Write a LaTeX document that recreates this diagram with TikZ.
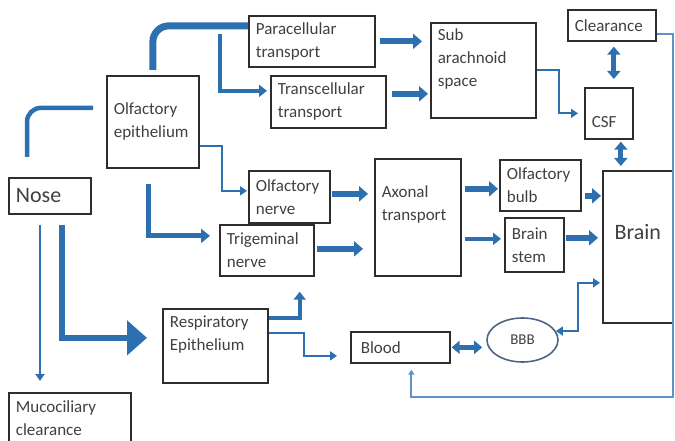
\documentclass[tikz,border=0pt]{standalone}
\usepackage{fontspec}
\setmainfont{Carlito}
\usetikzlibrary{arrows.meta,shapes.geometric}

\definecolor{flowblue}{RGB}{44,112,176}
\definecolor{backblue}{RGB}{96,146,202}
\definecolor{boxgray}{RGB}{45,45,45}
\definecolor{txtgray}{RGB}{64,64,64}
\definecolor{ovalgray}{RGB}{78,102,132}

% text block of a box: width, height, position, text
\newcommand{\bxt}[4]{\parbox[c][#2][#3]{#1}{\raggedright #4}}

\tikzset{
  box/.style={draw=boxgray, line width=1.7pt, anchor=north west, inner xsep=7pt, inner ysep=5pt,
    text=txtgray, font=\fontsize{17}{23}\selectfont},
  bigtext/.style={font=\fontsize{22}{26}\selectfont},
  oval/.style={ellipse, draw=ovalgray, line width=1.6pt, minimum width=71pt, minimum height=44pt,
    inner sep=0pt, text=txtgray, font=\fontsize{15}{18}\selectfont},
  pipe/.style={draw=flowblue, line width=#1},
  thinflow/.style={draw=flowblue, line width=2pt, -{Triangle[length=7pt,width=9pt]}},
  medflow/.style={draw=flowblue, line width=4pt, -{Triangle[length=8pt,width=12pt]}},
  fatflow/.style={draw=flowblue, line width=6pt, -{Triangle[length=9pt,width=15pt]}},
  twoway/.style={draw=flowblue, line width=5pt, {Triangle[length=8pt,width=13pt]}-{Triangle[length=8pt,width=13pt]}},
  thintwoway/.style={draw=flowblue, line width=2pt, {Triangle[length=7pt,width=9pt]}-{Triangle[length=7pt,width=9pt]}},
  backflow/.style={draw=backblue, line width=2pt, -{Triangle[length=5pt,width=6pt]}}
}

\begin{document}
\begin{tikzpicture}[x=1pt, y=-1pt]
  \useasboundingbox (0,0) rectangle (675,441);

  % Entry
  \node[box, bigtext] (nose) at (8,177) {\bxt{68pt}{26pt}{c}{Nose}};
  \node[box] (muco) at (8,392) {\bxt{108pt}{40pt}{c}{Mucociliary\\clearance}};
  \node[box] (olfepi) at (106,75) {\bxt{78pt}{82pt}{c}{Olfactory\\epithelium}};
  \node[box] (resp) at (162,308) {\bxt{91pt}{64pt}{t}{\vspace*{2pt}Respiratory\\Epithelium}};

  % Upper route
  \node[box] (para) at (248,15) {\bxt{112pt}{41pt}{c}{Paracellular\\transport}};
  \node[box] (trans) at (270,75) {\bxt{101pt}{42pt}{c}{Transcellular\\transport}};
  \node[box] (sub) at (430,22) {\bxt{91pt}{85pt}{t}{\vspace*{1pt}Sub\\arachnoid\\space}};
  \node[box] (clear) at (567,9) {\bxt{74pt}{21pt}{c}{Clearance}};
  \node[box] (csf) at (584,87) {\bxt{34pt}{41pt}{t}{\vspace*{24pt}CSF}};

  % Nerve route
  \node[box] (olfnerve) at (248,170) {\bxt{67pt}{42pt}{c}{Olfactory\\nerve}};
  \node[box] (trig) at (219,224) {\bxt{80pt}{41pt}{c}{Trigeminal\\nerve}};
  \node[box] (axon) at (374,158) {\bxt{72pt}{107pt}{t}{\vspace*{22pt}Axonal\\transport}};
  \node[box] (bulb) at (499,159) {\bxt{67pt}{41pt}{c}{Olfactory\\bulb}};
  \node[box] (stem) at (504,217) {\bxt{45pt}{44pt}{c}{Brain\\stem}};
  \node[box, bigtext] (brain) at (602,170) {\bxt{56pt}{142pt}{t}{\centering\vspace*{49pt}Brain}};

  % Blood route
  \node[box] (blood) at (350,331) {\bxt{85pt}{21pt}{c}{\hspace*{3pt}Blood}};
  \node[oval] (bbb) at (522.5,340) {BBB};
  \coordinate (rcorner) at (673,397);

  % from the nose
  \draw[pipe=4.5pt, rounded corners=14pt] ([xshift=19pt,yshift=20pt]nose.north west) |- ([xshift=-13pt,yshift=14pt]olfepi.west);
  \draw[thinflow] ([xshift=32pt,yshift=-10pt]nose.south west) -- ([xshift=32pt,yshift=11pt]muco.north west);
  \draw[pipe=6pt, -{Triangle[length=20pt,width=34pt]}] ([xshift=54pt,yshift=-10pt]nose.south west) |- ([xshift=-15pt,yshift=8pt]resp.west);

  % from the olfactory epithelium
  \draw[pipe=7pt, rounded corners=16pt] ([yshift=5pt]olfepi.north) |- ([yshift=15.5pt]para.west);
  \draw[medflow] ([xshift=-28pt,yshift=7.5pt]para.west) |- ([xshift=-3pt,yshift=11pt]trans.west);
  \draw[thinflow] ([yshift=-24pt]olfepi.east) -- ++(22,0) |- ([xshift=-1pt,yshift=6pt]olfnerve.west);
  \draw[pipe=5pt, -{Triangle[length=9pt,width=14pt]}] ([xshift=-4pt,yshift=-15pt]olfepi.south) |- ([xshift=-9pt,yshift=14.5pt]trig.west);

  % from the respiratory epithelium
  \draw[medflow] ([yshift=28pt]resp.east) -| ([xshift=-15pt,yshift=-15pt]trig.south east);
  \draw[thinflow] ([yshift=13pt]resp.east) -- ++(35,0) |- ([xshift=-13pt,yshift=-8.5pt]blood.west);

  % to the CSF
  \draw[fatflow] ([xshift=4pt]para.east) -- ([xshift=-8pt]para.east -| sub.west);
  \draw[fatflow] ([xshift=5pt,yshift=8pt]trans.east) -- ([xshift=-2pt,yshift=8pt]trans.east -| sub.west);
  \draw[thinflow] (sub.east) -- ++(22,0) |- ([xshift=-6pt]csf.west);
  \draw[twoway] ([xshift=2pt,yshift=-5pt]clear.south) -- ([xshift=2pt,yshift=8pt]clear.south |- csf.north);
  \draw[twoway] ([xshift=12pt,yshift=-2pt]csf.south) -- ([xshift=12pt,yshift=4pt]csf.south |- brain.north);

  % along the nerves
  \draw[fatflow] ([xshift=1pt,yshift=3pt]olfnerve.east) -- ([xshift=-6pt,yshift=3pt]olfnerve.east -| axon.west);
  \draw[fatflow] ([xshift=2pt,yshift=1.5pt]trig.east) -- ([xshift=-11pt,yshift=1.5pt]trig.east -| axon.west);
  \draw[fatflow] ([xshift=3pt,yshift=-3.5pt]bulb.west -| axon.east) -- ([xshift=-1pt,yshift=-3.5pt]bulb.west);
  \draw[medflow] ([xshift=3pt,yshift=6pt]stem.west -| axon.east) -- ([xshift=-3pt,yshift=6pt]stem.west);
  \draw[fatflow] ([xshift=3pt,yshift=-10.5pt]bulb.east) -- ([xshift=-1pt,yshift=-10.5pt]bulb.east -| brain.west);
  \draw[fatflow] ([xshift=1pt,yshift=7pt]stem.east) -- ([xshift=-4pt,yshift=7pt]stem.east -| brain.west);

  % blood and barrier
  \draw[twoway] ([xshift=1pt]blood.east) -- ([xshift=-4pt]blood.east -| bbb.west);
  \draw[thintwoway] (bbb.15) -- ++(22,0) |- ([xshift=-2pt,yshift=-36pt]brain.west);
  \draw[backflow] ([yshift=-8.5pt]clear.east) -| (rcorner) -| ([xshift=11pt,yshift=-6pt]blood.south);
\end{tikzpicture}
\end{document}
